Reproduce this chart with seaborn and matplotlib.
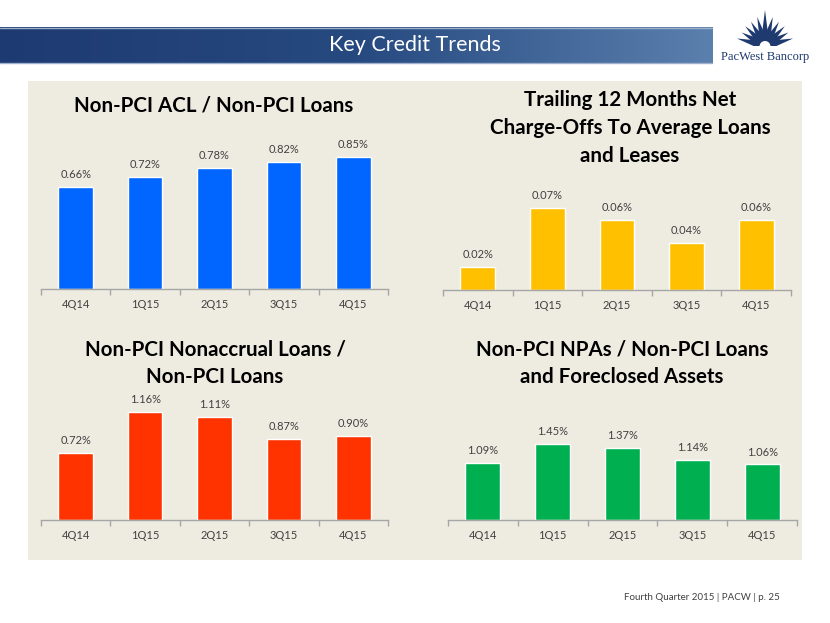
import matplotlib
matplotlib.use("Agg")
import matplotlib.pyplot as plt
import seaborn as sns
import numpy as np
import pandas as pd
from matplotlib.patches import Rectangle, Polygon, Wedge
from matplotlib.colors import LinearSegmentedColormap

# ---------------- data ----------------
quarters = ["4Q14", "1Q15", "2Q15", "3Q15", "4Q15"]
acl_ratio = [0.66, 0.72, 0.78, 0.82, 0.85]
nco_ratio = [0.02, 0.07, 0.06, 0.04, 0.06]
nonaccrual_ratio = [0.72, 1.16, 1.11, 0.87, 0.90]
npa_ratio = [1.09, 1.45, 1.37, 1.14, 1.06]

title_acl = "Non-PCI ACL / Non-PCI Loans"
title_nco = "Trailing 12 Months Net\nCharge-Offs To Average Loans\nand Leases"
title_nonaccrual = "Non-PCI Nonaccrual Loans /\nNon-PCI Loans"
title_npa = "Non-PCI NPAs / Non-PCI Loans\nand Foreclosed Assets"
page_title = "Key Credit Trends"
footer = "Fourth Quarter 2015 | PACW | p. 25"
logo_text = "PacWest Bancorp"

# ---------------- setup ----------------
sns.set_theme(style="white")
plt.rcParams['font.family'] = ['Lato', 'DejaVu Sans']

W, H = 830, 623
fig = plt.figure(figsize=(W / 100, H / 100), dpi=100)
fig.patch.set_facecolor("white")

def fx(x):
    return x / W

def fy(y):
    return 1 - y / H

# background / decoration axes in pixel coordinates
bg = fig.add_axes([0, 0, 1, 1], zorder=-5)
bg.set_xlim(0, W)
bg.set_ylim(H, 0)
bg.axis("off")

# beige panel
bg.add_patch(Rectangle((28, 81), 774, 479, facecolor="#EEECE1", edgecolor="none"))

# header gradient bar
grad = np.linspace(0, 1, 256).reshape(1, -1)
cmap = LinearSegmentedColormap.from_list("hdr", ["#1E3A72", "#264A80", "#5B80AE"])
bg.imshow(grad, extent=(0, 712, 63, 27), cmap=cmap, aspect="auto", zorder=1)
bg.plot([0, 712], [27.5, 27.5], color="#9DB0CC", lw=1, zorder=2)
bg.plot([0, 712], [62.5, 62.5], color="#9DB0CC", lw=1, zorder=2)
bg.text(415, 45, page_title, color="white", fontsize=15.5, ha="center", va="center",
        family=["Lato", "DejaVu Sans"], zorder=3)

# logo (starburst + text)
cx, cy = 765, 46
navy = "#1F3A6E"
ray_len = {15: 29, 30: 27, 45: 28, 60: 28, 75: 30, 90: 36,
           105: 30, 120: 28, 135: 28, 150: 27, 165: 29}
for a, L in ray_len.items():
    t = np.deg2rad(a)
    n = np.array([-np.sin(t), -np.cos(t)])
    d = np.array([np.cos(t), -np.sin(t)])
    base = np.array([cx, cy]) + d * 6
    tip = np.array([cx, cy]) + d * L
    pts = [base + n * 3.8, tip, base - n * 3.8]
    bg.add_patch(Polygon(pts, closed=True, facecolor=navy, edgecolor="none", zorder=3))
bg.add_patch(Wedge((cx, cy), 10, 180, 360, facecolor=navy, edgecolor="none", zorder=3))
bg.add_patch(Wedge((cx, cy + 0.5), 5.5, 180, 360, facecolor="white", edgecolor="none", zorder=4))
bg.add_patch(Rectangle((cx - 14, cy), 28, 3, facecolor="white", edgecolor="none", zorder=4))
bg.text(765, 57, logo_text, color=navy, fontsize=9, ha="center", va="center",
        family=["Liberation Serif", "DejaVu Serif"], zorder=3)

# footer
bg.text(780, 598, footer, color="#404040", fontsize=7, ha="right", va="center")

# ---------------- panels ----------------
label_color = "#404040"

def panel(values, color, x0, x1, yb, k, top, title, title_x, title_y):
    ytop = yb - top * k
    ax = fig.add_axes([fx(x0), fy(yb), (x1 - x0) / W, (yb - ytop) / H])
    df = pd.DataFrame({"q": quarters, "v": values})
    sns.barplot(data=df, x="q", y="v", color=color, saturation=1, width=0.5, ax=ax)
    ax.set_facecolor("none")
    ax.set_xlim(-0.5, 4.5)
    ax.set_ylim(0, top)
    ax.set_yticks([])
    ax.set_xlabel("")
    ax.set_ylabel("")
    for s in ["top", "left", "right"]:
        ax.spines[s].set_visible(False)
    ax.spines["bottom"].set_color("#A6A6A6")
    ax.spines["bottom"].set_linewidth(1)
    ax.set_xticks(np.arange(-0.5, 5.0, 1), minor=True)
    ax.tick_params(axis="x", which="minor", length=4, color="#A6A6A6", width=1, direction="out", bottom=True)
    ax.tick_params(axis="x", which="major", length=0, pad=7, labelsize=8, labelcolor=label_color)
    for i, v in enumerate(values):
        ax.annotate(f"{v:.2f}%", (i, v), xytext=(0, 5), textcoords="offset points",
                    ha="center", va="bottom", fontsize=8, color=label_color)
    fig.text(fx(title_x), fy(title_y), title, ha="center", va="center", fontsize=14.8,
             fontweight="bold", color="black", linespacing=1.5)
    return ax

panel(acl_ratio, "#0066FF", 41, 388, 289, 155, 1.0, title_acl, 214, 106)
panel(nco_ratio, "#FFC000", 443, 791, 290, 1171, 0.1, title_nco, 630, 128)
panel(nonaccrual_ratio, "#FF3300", 41, 388, 520, 93, 1.4, title_nonaccrual, 215, 363)
panel(npa_ratio, "#00B050", 448, 797, 520, 52.4, 2.0, title_npa, 622, 363)

fig.savefig("out.png", dpi=100, facecolor="white")
